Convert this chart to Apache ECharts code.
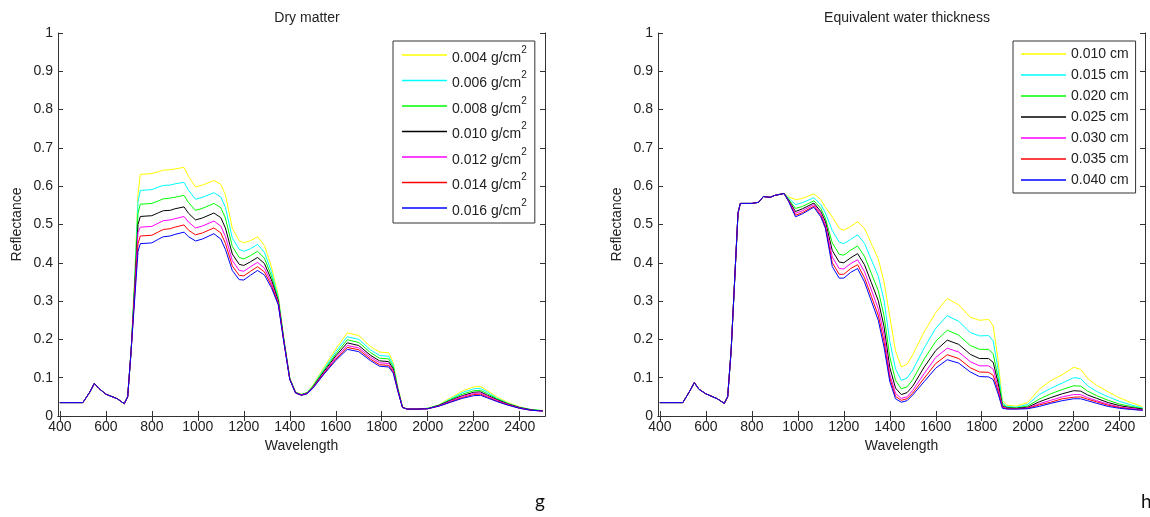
<!DOCTYPE html>
<html><head><meta charset="utf-8">
<script src="https://cdn.jsdelivr.net/npm/echarts@6/dist/echarts.min.js"></script>
<style>html,body{margin:0;padding:0;background:#fff}#c{width:1150px;height:517px}</style>
</head><body><div id="c"></div>
<script>
const wavelength = [400,500,530,550,570,600,650,680,695,710,725,740,750,800,830,850,880,900,940,960,990,1020,1070,1100,1120,1150,1180,1200,1230,1260,1290,1320,1350,1375,1400,1425,1450,1475,1500,1550,1600,1650,1700,1750,1790,1830,1850,1870,1890,1910,1950,2000,2050,2100,2150,2200,2230,2260,2300,2350,2400,2450,2500];
const xTickLabels = [400,600,800,1000,1200,1400,1600,1800,2000,2200,2400];

const dryLabels = ['0.004','0.006','0.008','0.010','0.012','0.014','0.016'];
const dry004 = [.035,.035,.062,.085,.072,.057,.045,.032,.05,.17,.36,.58,.631,.633,.638,.642,.643,.645,.649,.625,.598,.603,.615,.605,.578,.49,.458,.452,.458,.468,.445,.39,.315,.2,.1,.063,.057,.062,.08,.128,.175,.217,.21,.182,.167,.165,.14,.075,.025,.018,.018,.02,.03,.048,.065,.076,.077,.066,.05,.035,.024,.017,.014];
const dry006 = [.035,.035,.062,.085,.072,.057,.045,.032,.05,.17,.35,.56,.589,.591,.598,.602,.603,.606,.610,.589,.566,.571,.583,.572,.545,.465,.435,.430,.437,.448,.427,.377,.309,.198,.099,.062,.056,.061,.078,.124,.168,.207,.200,.173,.158,.156,.134,.073,.024,.018,.018,.020,.029,.045,.061,.071,.072,.062,.047,.033,.023,.017,.014];
const dry008 = [.035,.035,.062,.085,.072,.057,.045,.032,.05,.17,.34,.53,.553,.555,.562,.567,.569,.571,.576,.557,.537,.542,.555,.544,.517,.443,.414,.410,.419,.430,.412,.366,.304,.196,.098,.062,.056,.060,.077,.120,.162,.199,.192,.166,.151,.149,.128,.071,.024,.018,.018,.020,.028,.043,.057,.066,.067,.058,.045,.032,.022,.016,.014];
const dry010 = [.035,.035,.062,.085,.072,.057,.045,.032,.05,.17,.33,.50,.521,.523,.531,.536,.537,.541,.546,.529,.512,.517,.530,.518,.491,.423,.396,.393,.403,.414,.398,.356,.300,.194,.097,.061,.055,.060,.075,.117,.157,.191,.184,.159,.144,.142,.123,.069,.023,.018,.018,.019,.028,.041,.053,.062,.063,.054,.043,.031,.022,.016,.013];
const dry012 = [.035,.035,.062,.085,.072,.057,.045,.032,.05,.17,.32,.48,.493,.495,.504,.510,.512,.515,.521,.506,.491,.496,.509,.496,.469,.406,.380,.378,.390,.401,.386,.348,.296,.192,.096,.061,.055,.059,.074,.114,.152,.184,.178,.154,.139,.137,.119,.067,.023,.018,.018,.019,.027,.039,.051,.059,.060,.052,.041,.030,.021,.015,.013];
const dry014 = [.035,.035,.062,.085,.072,.057,.045,.032,.05,.17,.31,.45,.470,.472,.481,.487,.489,.493,.499,.485,.473,.478,.491,.478,.451,.392,.367,.366,.378,.390,.376,.341,.293,.191,.096,.060,.054,.058,.073,.112,.148,.179,.173,.149,.134,.132,.115,.066,.022,.018,.018,.019,.026,.037,.048,.056,.057,.049,.039,.029,.020,.015,.013];
const dry016 = [.035,.035,.062,.085,.072,.057,.045,.032,.05,.17,.30,.43,.450,.452,.462,.468,.470,.474,.480,.468,.457,.462,.476,.462,.435,.380,.356,.355,.368,.380,.368,.335,.290,.190,.095,.060,.054,.058,.072,.110,.145,.174,.168,.145,.130,.128,.112,.065,.022,.018,.018,.019,.026,.036,.046,.053,.054,.047,.038,.028,.020,.015,.013];

const waterLabels = ['0.010 cm','0.015 cm','0.020 cm','0.025 cm','0.030 cm','0.035 cm','0.040 cm'];
const wat010 = [.035,.035,.065,.087,.07,.058,.045,.033,.05,.17,.35,.53,.555,.555,.558,.573,.571,.576,.581,.572,.565,.568,.58,.565,.545,.52,.49,.485,.495,.507,.49,.45,.41,.35,.26,.17,.128,.135,.16,.22,.27,.307,.29,.258,.25,.252,.235,.15,.04,.028,.026,.035,.07,.092,.108,.127,.122,.098,.08,.063,.047,.035,.024];
const wat015 = [.035,.035,.065,.087,.07,.058,.045,.033,.05,.17,.35,.53,.555,.555,.558,.573,.571,.576,.581,.569,.552,.557,.570,.552,.530,.484,.454,.450,.461,.473,.451,.408,.365,.302,.195,.123,.093,.099,.120,.178,.229,.262,.247,.218,.209,.210,.196,.125,.034,.025,.023,.030,.056,.072,.086,.100,.098,.079,.064,.050,.038,.029,.021];
const wat020 = [.035,.035,.065,.087,.07,.058,.045,.033,.05,.17,.35,.53,.555,.555,.558,.573,.571,.576,.581,.566,.542,.547,.562,.542,.516,.452,.422,.420,.433,.444,.417,.372,.327,.262,.155,.093,.071,.076,.095,.149,.195,.224,.211,.184,.174,.174,.162,.103,.030,.023,.021,.026,.044,.058,.069,.079,.078,.065,.053,.041,.031,.025,.019];
const wat025 = [.035,.035,.065,.087,.07,.058,.045,.033,.05,.17,.35,.53,.555,.555,.558,.573,.571,.576,.581,.564,.534,.541,.556,.534,.508,.432,.402,.400,.413,.424,.395,.348,.301,.234,.127,.073,.056,.061,.078,.128,.171,.198,.187,.161,.150,.150,.140,.089,.026,.021,.020,.023,.037,.048,.058,.066,.065,.055,.046,.035,.027,.022,.018];
const wat030 = [.035,.035,.065,.087,.07,.058,.045,.033,.05,.17,.35,.53,.555,.555,.558,.573,.571,.576,.581,.562,.529,.536,.552,.529,.500,.415,.385,.384,.398,.408,.377,.329,.280,.212,.109,.059,.046,.050,.067,.111,.153,.177,.167,.142,.131,.131,.122,.077,.024,.020,.019,.021,.032,.041,.050,.056,.056,.048,.040,.031,.023,.020,.016];
const wat035 = [.035,.035,.065,.087,.07,.058,.045,.033,.05,.17,.35,.53,.555,.555,.558,.573,.571,.576,.581,.561,.524,.531,.548,.524,.494,.400,.370,.370,.385,.395,.361,.312,.263,.194,.099,.051,.041,.045,.060,.099,.137,.160,.150,.126,.115,.114,.106,.067,.022,.019,.019,.020,.029,.036,.045,.049,.050,.044,.037,.028,.022,.018,.015];
const wat040 = [.035,.035,.065,.087,.07,.058,.045,.033,.05,.17,.35,.53,.555,.555,.558,.573,.571,.576,.581,.560,.520,.528,.545,.520,.490,.390,.360,.360,.375,.385,.350,.300,.250,.180,.090,.045,.036,.040,.055,.090,.125,.147,.138,.115,.103,.102,.095,.060,.020,.018,.018,.019,.025,.033,.040,.045,.045,.040,.033,.025,.020,.017,.015];

const colors = ['#ffff00','#00ffff','#00ff00','#000000','#ff00ff','#ff0000','#0000ff'];
const drySeriesValues = [dry004,dry006,dry008,dry010,dry012,dry014,dry016];
const waterSeriesValues = [wat010,wat015,wat020,wat025,wat030,wat035,wat040];

const FONT = 'Liberation Sans';
const AX = '#333';
function pairs(vals){ return wavelength.map((w,i)=>[w, vals[i]]); }

function xAxes(gi){
  return [
    {type:'value', gridIndex:gi, min:392, max:2510, position:'bottom',
     axisLine:{show:true, lineStyle:{color:AX}},
     axisTick:{show:true, inside:true, length:5, customValues:xTickLabels, lineStyle:{color:AX}},
     axisLabel:{show:true, customValues:xTickLabels, formatter:v=>String(v), color:'#222', fontSize:14, fontFamily:FONT, margin:4},
     splitLine:{show:false},
     name:'Wavelength', nameLocation:'middle', nameGap:23, nameTextStyle:{color:'#222', fontSize:14, fontFamily:FONT}},
    {type:'value', gridIndex:gi, min:392, max:2510, position:'top',
     axisLine:{show:true, lineStyle:{color:AX}},
     axisTick:{show:true, inside:true, length:5, customValues:xTickLabels, lineStyle:{color:AX}},
     axisLabel:{show:false}, splitLine:{show:false}}
  ];
}
function yAxes(gi){
  return [
    {type:'value', gridIndex:gi, min:0, max:1, interval:0.1, position:'left',
     axisLine:{show:true, lineStyle:{color:AX}},
     axisTick:{show:true, inside:true, length:5, lineStyle:{color:AX}},
     axisLabel:{color:'#222', fontSize:14, fontFamily:FONT, margin:5},
     splitLine:{show:false},
     name:'Reflectance', nameLocation:'middle', nameGap:34, nameTextStyle:{color:'#222', fontSize:14, fontFamily:FONT}},
    {type:'value', gridIndex:gi, min:0, max:1, interval:0.1, position:'right',
     axisLine:{show:true, lineStyle:{color:AX}},
     axisTick:{show:true, inside:true, length:5, lineStyle:{color:AX}},
     axisLabel:{show:false}, splitLine:{show:false}}
  ];
}

const series = [];
drySeriesValues.forEach((v,i)=>{
  series.push({type:'line', name:dryLabels[i]+' g/cm²', xAxisIndex:0, yAxisIndex:0, data:pairs(v),
    showSymbol:false, symbol:'none', lineStyle:{width:1, color:colors[i]}, itemStyle:{color:colors[i]}});
});
waterSeriesValues.forEach((v,i)=>{
  series.push({type:'line', name:waterLabels[i], xAxisIndex:2, yAxisIndex:2, data:pairs(v),
    showSymbol:false, symbol:'none', lineStyle:{width:1, color:colors[i]}, itemStyle:{color:colors[i]}});
});

const chart = echarts.init(document.getElementById('c'), null, {renderer:'canvas'});
chart.setOption({
  animation:false,
  backgroundColor:'#fff',
  textStyle:{fontFamily:FONT},
  title:[
    {text:'Dry matter', left:302, top:6, textAlign:'center', textStyle:{fontSize:14, fontWeight:'normal', color:'#222', fontFamily:FONT}},
    {text:'Equivalent water thickness', left:902, top:6, textAlign:'center', textStyle:{fontSize:14, fontWeight:'normal', color:'#222', fontFamily:FONT}},
    {text:'g', left:535, top:492, padding:0, textStyle:{fontSize:19, fontWeight:'normal', color:'#111', fontFamily:'Lato'}},
    {text:'h', left:1141, top:492, padding:0, textStyle:{fontSize:19, fontWeight:'normal', color:'#111', fontFamily:'Lato'}}
  ],
  grid:[
    {left:58, top:33, width:487, height:383, containLabel:false},
    {left:658, top:33, width:487, height:383, containLabel:false}
  ],
  xAxis:[...xAxes(0), ...xAxes(1)],
  yAxis:[...yAxes(0), ...yAxes(1)],
  legend:[
    {orient:'vertical', left:393, top:41, padding:[4,8,5,9], icon:'rect', itemWidth:45, itemHeight:1.5, itemGap:5.5,
     borderColor:'#333', borderWidth:1, backgroundColor:'#fff', borderRadius:0,
     data:series.slice(0,7).map(s=>s.name),
     formatter:n=>'{a|'+n.replace('²','')+'}{s|2}',
     textStyle:{rich:{a:{fontSize:14, color:'#222', fontFamily:FONT, lineHeight:20, verticalAlign:'bottom'},
                      s:{fontSize:10, color:'#222', fontFamily:FONT, lineHeight:20, verticalAlign:'top'}}}},
    {orient:'vertical', left:1013, top:41, padding:[5,7,5,8], icon:'rect', itemWidth:45, itemHeight:1.5, itemGap:5,
     borderColor:'#333', borderWidth:1, backgroundColor:'#fff', borderRadius:0,
     data:waterLabels,
     textStyle:{fontSize:14, color:'#222', fontFamily:FONT, lineHeight:16}}
  ],
  series:series
});
</script></body></html>
